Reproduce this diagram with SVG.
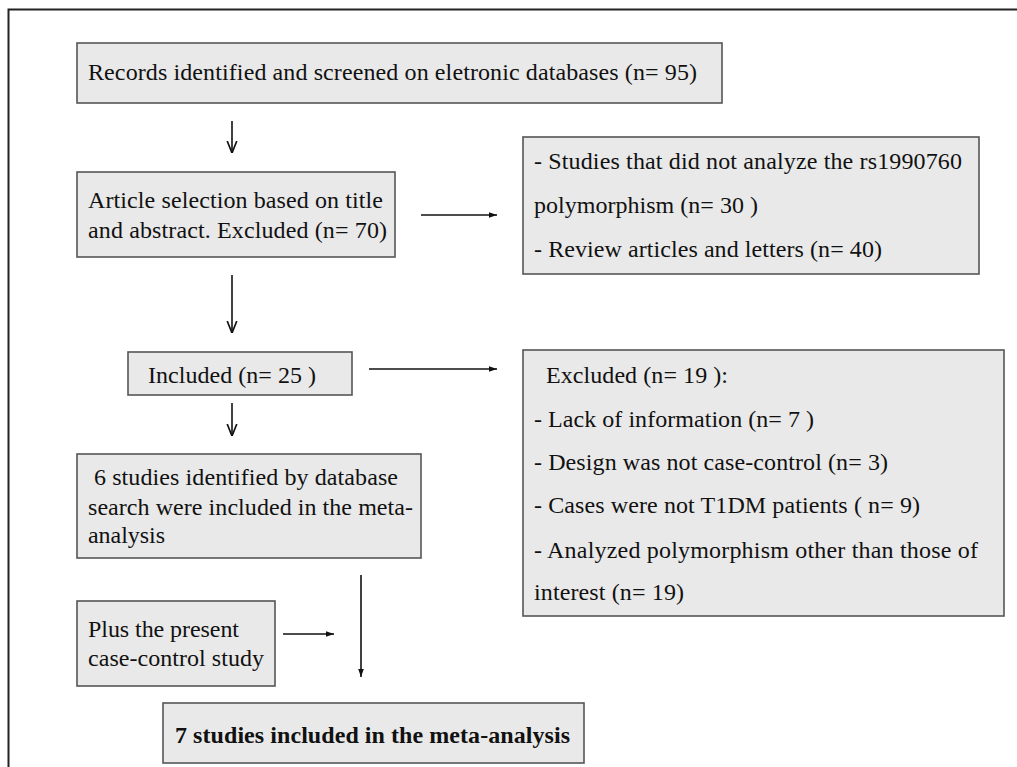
<svg xmlns="http://www.w3.org/2000/svg" width="1017" height="767" viewBox="0 0 1017 767">
<style>
.box{fill:#e9e9e9;stroke:#555;stroke-width:1.6}
.t{font-family:"Liberation Serif","Times New Roman",serif;font-size:24px;fill:#111}
.b{font-weight:bold}
.c{stroke:#111;stroke-width:1.6;fill:none}
</style>
<defs>
<marker id="ah" viewBox="0 0 10 10" refX="10" refY="5" markerWidth="8" markerHeight="8" markerUnits="userSpaceOnUse" orient="auto">
<path d="M0,1.5 L10,5 L0,8.5 Z" fill="#111"/>
</marker>
<marker id="av" viewBox="0 0 10 10" refX="10" refY="5" markerWidth="12" markerHeight="12" markerUnits="userSpaceOnUse" orient="auto">
<path d="M0,1 L10,5 L0,9" fill="none" stroke="#111" stroke-width="1.4"/>
</marker>
</defs>
<rect width="1017" height="767" fill="#fff"/>
<path d="M1017,9.5 H8.5 V767" fill="none" stroke="#222" stroke-width="2"/>
<g id="n1"><rect class="box" x="77" y="43" width="645" height="60"/>
<text class="t" x="88" y="80" textLength="609" lengthAdjust="spacing">Records identified and screened on eletronic databases (n= 95)</text></g>
<g id="n2"><rect class="box" x="77" y="172" width="318" height="85"/>
<text class="t" x="88" y="208" textLength="295" lengthAdjust="spacing">Article selection based on title</text>
<text class="t" x="88" y="238" textLength="299" lengthAdjust="spacing">and abstract. Excluded (n= 70)</text></g>
<g id="n3"><rect class="box" x="523" y="137" width="456" height="137"/>
<text class="t" x="534" y="169" textLength="428" lengthAdjust="spacing">- Studies that did not analyze the rs1990760</text>
<text class="t" x="534" y="213" textLength="224" lengthAdjust="spacing">polymorphism (n= 30 )</text>
<text class="t" x="534" y="257" textLength="348" lengthAdjust="spacing">- Review articles and letters (n= 40)</text></g>
<g id="n4"><rect class="box" x="128" y="352" width="224" height="43"/>
<text class="t" x="148" y="383" textLength="168" lengthAdjust="spacing">Included (n= 25 )</text></g>
<g id="n5"><rect class="box" x="523" y="350" width="481" height="266"/>
<text class="t" x="546" y="383" textLength="182" lengthAdjust="spacing">Excluded (n= 19 ):</text>
<text class="t" x="534" y="427" textLength="280" lengthAdjust="spacing">- Lack of information (n= 7 )</text>
<text class="t" x="534" y="470" textLength="354" lengthAdjust="spacing">- Design was not case-control (n= 3)</text>
<text class="t" x="534" y="513" textLength="386" lengthAdjust="spacing">- Cases were not T1DM patients ( n= 9)</text>
<text class="t" x="534" y="558" textLength="444" lengthAdjust="spacing">- Analyzed polymorphism other than those of</text>
<text class="t" x="534" y="600" textLength="150" lengthAdjust="spacing">interest (n= 19)</text></g>
<g id="n6"><rect class="box" x="77" y="454" width="344" height="104"/>
<text class="t" x="94" y="485" textLength="304" lengthAdjust="spacing">6 studies identified by database</text>
<text class="t" x="88" y="515" textLength="325" lengthAdjust="spacing">search were included in the meta-</text>
<text class="t" x="88" y="543" textLength="77" lengthAdjust="spacing">analysis</text></g>
<g id="n7"><rect class="box" x="77" y="601" width="198" height="85"/>
<text class="t" x="88" y="637" textLength="151" lengthAdjust="spacing">Plus the present</text>
<text class="t" x="88" y="666" textLength="176" lengthAdjust="spacing">case-control study</text></g>
<g id="n8"><rect class="box" x="163" y="703" width="421" height="60"/>
<text class="t b" x="175" y="743" textLength="395" lengthAdjust="spacing">7 studies included in the meta-analysis</text></g>
<g id="connectors">
<line class="c" x1="232" y1="121" x2="232" y2="153" marker-end="url(#av)"/>
<line class="c" x1="232" y1="275" x2="232" y2="333" marker-end="url(#av)"/>
<line class="c" x1="232" y1="403" x2="232" y2="436" marker-end="url(#av)"/>
<line class="c" x1="421" y1="215" x2="497" y2="215" marker-end="url(#ah)"/>
<line class="c" x1="369" y1="369" x2="497" y2="369" marker-end="url(#ah)"/>
<line class="c" x1="361" y1="575" x2="361" y2="677" marker-end="url(#ah)"/>
<line class="c" x1="283" y1="634" x2="334" y2="634" marker-end="url(#ah)"/>
</g>
</svg>
